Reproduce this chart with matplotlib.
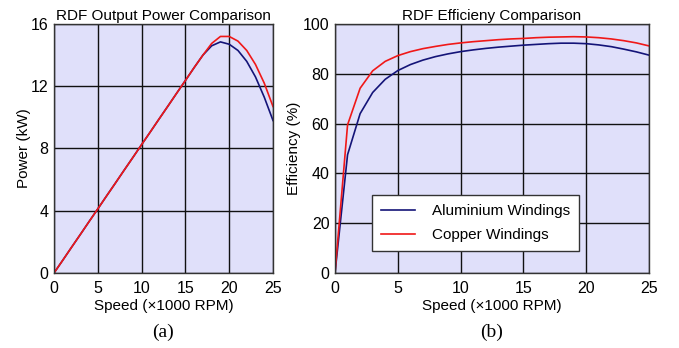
import matplotlib
matplotlib.use("Agg")
import matplotlib.pyplot as plt

speed = list(range(0, 26))
power_al = [0, 0.82, 1.65, 2.47, 3.3, 4.12, 4.95, 5.77, 6.6, 7.42, 8.25, 9.07, 9.9,
            10.72, 11.55, 12.37, 13.2, 14.0, 14.6, 14.85, 14.7, 14.3, 13.6, 12.6, 11.3, 9.8]
power_cu = [0, 0.82, 1.65, 2.47, 3.3, 4.12, 4.95, 5.77, 6.6, 7.42, 8.25, 9.07, 9.9,
            10.72, 11.55, 12.37, 13.2, 14.0, 14.75, 15.2, 15.2, 14.9, 14.3, 13.4, 12.2, 10.7]
eff_al = [0, 47.5, 64.0, 72.5, 77.8, 81.3, 83.7, 85.5, 86.9, 88.0, 88.9, 89.6, 90.2,
          90.7, 91.1, 91.5, 91.8, 92.1, 92.3, 92.3, 92.1, 91.6, 90.9, 89.9, 88.8, 87.5]
eff_cu = [0, 59.5, 74.2, 81.2, 85.0, 87.3, 88.9, 90.1, 91.0, 91.8, 92.4, 92.9, 93.3,
          93.7, 94.0, 94.2, 94.5, 94.7, 94.8, 94.9, 94.8, 94.5, 94.0, 93.3, 92.4, 91.2]
xticks = [0, 5, 10, 15, 20, 25]
p_ticks = [0, 4, 8, 12, 16]
e_ticks = [0, 20, 40, 60, 80, 100]

plt.rcParams['font.family'] = ['Liberation Sans', 'DejaVu Sans']
navy = '#141478'
red = '#f01818'
bg = '#e0e0fa'

fig = plt.figure(figsize=(6.79, 3.48), dpi=100)
W, H = 679, 348
ax1 = fig.add_axes([54 / W, 1 - 273 / H, 219 / W, 249 / H])
ax2 = fig.add_axes([335 / W, 1 - 273 / H, 314 / W, 249 / H])

for ax in (ax1, ax2):
    ax.set_facecolor(bg)
    ax.set_axisbelow(True)
    ax.grid(True, color='#111111', linewidth=1.0)
    ax.tick_params(length=0, labelsize=11.5)
    ax.tick_params(axis='x', pad=6)
    ax.tick_params(axis='y', pad=4)
    for s in ax.spines.values():
        s.set_color('#333333')
        s.set_linewidth(1.0)
    ax.set_xlim(0, 25)
    ax.set_xticks(xticks)
    ax.set_xlabel('Speed (×1000 RPM)', fontsize=11, labelpad=2)

ax1.plot(speed, power_al, color=navy, lw=1.2)
ax1.plot(speed, power_cu, color=red, lw=1.2)
ax1.set_ylim(0, 16)
ax1.set_yticks(p_ticks)
ax1.set_ylabel('Power (kW)', fontsize=11, labelpad=0)
ax1.set_title('RDF Output Power Comparison', fontsize=11, pad=3)

ax2.plot(speed, eff_al, color=navy, lw=1.2, label='Aluminium Windings')
ax2.plot(speed, eff_cu, color=red, lw=1.2, label='Copper Windings')
ax2.set_ylim(0, 100)
ax2.set_yticks(e_ticks)
ax2.set_ylabel('Efficiency (%)', fontsize=11, labelpad=1)
ax2.set_title('RDF Efficieny Comparison', fontsize=11, pad=3)
leg = ax2.legend(loc='lower left', bbox_to_anchor=(0.118, 0.087), fontsize=11,
                 fancybox=False, framealpha=1, edgecolor='#333333',
                 handlelength=2.2, handletextpad=1.1, borderpad=0.6, labelspacing=0.65,
                 borderaxespad=0)
leg.get_frame().set_linewidth(1.0)

fig.text(163 / W, 1 - 332 / H, '(a)', ha='center', va='center', fontsize=14,
         family=['Liberation Serif', 'DejaVu Serif'])
fig.text(492 / W, 1 - 332 / H, '(b)', ha='center', va='center', fontsize=14,
         family=['Liberation Serif', 'DejaVu Serif'])

fig.savefig('out.png', dpi=100, facecolor='white')
